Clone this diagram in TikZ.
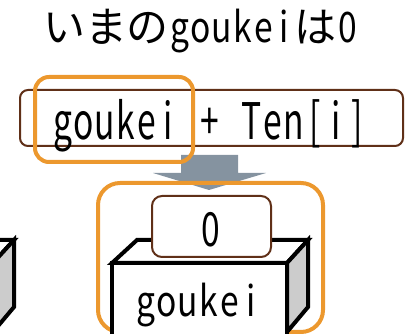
\documentclass[tikz,border=0pt]{standalone}
\usepackage{fontspec}
\usepackage{graphicx}
\setmainfont{Noto Sans CJK JP}
\definecolor{hl}{RGB}{236,152,46}
\definecolor{brn}{RGB}{96,48,24}
\definecolor{arrg}{RGB}{133,147,160}
\definecolor{side}{RGB}{204,204,204}
% half-width cells for Latin characters, optional vertical stretch
\makeatletter
\newcommand\halfw[2][1]{\@tfor\hw@c:=#2\do{\makebox[21pt][c]{\scalebox{0.8}[#1]{\hw@c}}}}
\makeatother
\tikzset{
  txt/.style={inner sep=0pt, outer sep=0pt, font=\fontsize{42pt}{50pt}\selectfont},
  brownbox/.style={draw=brn, line width=2pt, rounded corners=8pt, fill=white, inner sep=0pt, outer sep=0pt},
  hilite/.style={draw=hl, line width=4pt, inner sep=0pt, outer sep=0pt},
  cub/.style={draw=black, line width=4pt, line join=miter},
}
\begin{document}
\begin{tikzpicture}[x=1pt,y=-1pt]
\useasboundingbox (0,0) rectangle (405,334);
\clip (0,0) rectangle (405,334);
% heading
\node[txt, anchor=base west] (title) at (43,43) {いまの\halfw{goukei}は\halfw{0}};
% expression line
\node[brownbox, minimum width=383pt, minimum height=56pt] (expr) at (211.5,118) {};
\node[txt, anchor=base west] (exprtxt) at (52.5,140)
  {\halfw[1.2]{goukei}\hspace{21pt}\halfw[1.2]{+}\hspace{21pt}\halfw[1.2]{Ten[i]}};
% block arrow
\fill[arrg] (181,155) -- (238,155) -- (238,173) -- (266,173) -- (209,190)
  -- (153,173) -- (181,173) -- cycle;
% highlight around the variable name
\node[hilite, rounded corners=14pt, minimum width=158pt, minimum height=85pt] (hlvar) at (114,119.5) {};
% highlight around the variable box
\node[hilite, rounded corners=22pt, minimum width=225pt, minimum height=149pt] (hlbox) at (210.5,257.5) {};
% box of the neighbouring variable
\begin{scope}[xshift=-294pt]
  \filldraw[cub, fill=white] (112,263) -- (137,240) -- (308,240) -- (287,263) -- cycle;
  \filldraw[cub, fill=white] (112,263) rectangle (287,336);
  \filldraw[cub, fill=side] (287,263) -- (308,240) -- (308,307) -- (287,332) -- cycle;
\end{scope}
% box of goukei
\filldraw[cub, fill=white] (112,263) -- (137,240) -- (308,240) -- (287,263) -- cycle;
\filldraw[cub, fill=white] (112,263) rectangle (287,336);
\filldraw[cub, fill=side] (287,263) -- (308,240) -- (308,307) -- (287,332) -- cycle;
% value held by goukei
\node[brownbox, rounded corners=10pt, minimum width=119pt, minimum height=61pt] (val) at (211.5,226.5) {};
\node[txt, anchor=base] (valtxt) at (211,247) {\scalebox{0.8}[1.12]{0}};
\node[txt, anchor=base west] (name) at (135.5,317) {\halfw{goukei}};
\end{tikzpicture}
\end{document}
